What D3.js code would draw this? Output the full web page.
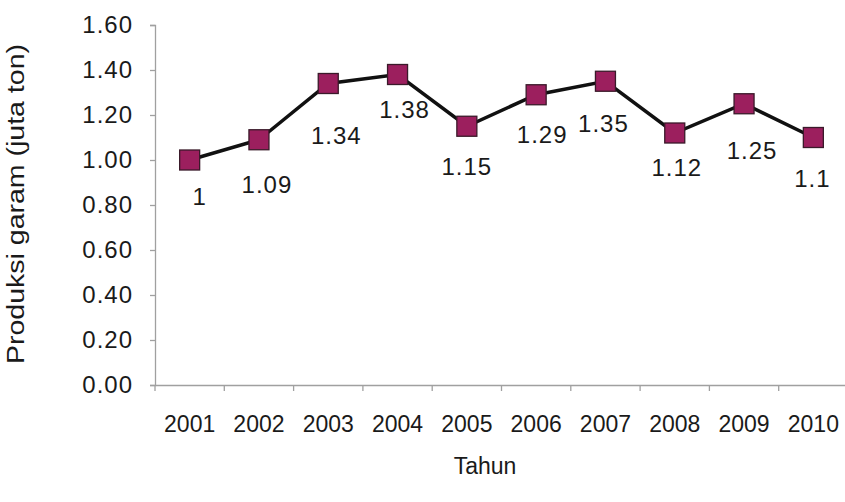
<!DOCTYPE html>
<html><head><meta charset="utf-8">
<script src="https://cdn.jsdelivr.net/npm/d3@7/dist/d3.min.js"></script>
<style>body{margin:0;background:#fff}svg{display:block}</style>
</head><body>
<svg id="c" width="845" height="502"></svg>
<script>
const years = ["2001","2002","2003","2004","2005","2006","2007","2008","2009","2010"];
const production = [1.00,1.09,1.34,1.38,1.15,1.29,1.35,1.12,1.25,1.10];
const pointLabels = ["1","1.09","1.34","1.38","1.15","1.29","1.35","1.12","1.25","1.1"];
const labelOffsets = [37,45,52,35,40,40,42,35,47,41];
const labelShiftX = [10,8,8,7,0,6,-2,2,8,-1];
const yTicks = [0,0.2,0.4,0.6,0.8,1.0,1.2,1.4,1.6];

const svg = d3.select("#c");
const font = "Liberation Sans, Arial, sans-serif";
const x = d3.scaleBand().domain(years).range([155, 848]);
const y = d3.scaleLinear().domain([0, 1.6]).range([385, 25]);

// Y axis
const ya = svg.append("g").attr("transform","translate(155,0)")
  .call(d3.axisLeft(y).tickValues(yTicks).tickFormat(d3.format(".2f")).tickSizeOuter(0).tickSize(5).tickPadding(17));
ya.select(".domain").attr("stroke","#a0a0a0").attr("stroke-width",1.3);
ya.selectAll(".tick line").attr("stroke","#a0a0a0").attr("stroke-width",1.3);
ya.selectAll(".tick text").attr("font-family",font).attr("font-size",24).attr("letter-spacing",1).attr("fill","#1a1a1a");

// X axis
const xa = svg.append("g").attr("transform","translate(0,385)")
  .call(d3.axisBottom(x).tickSize(0).tickPadding(31).tickSizeOuter(0));
xa.select(".domain").attr("stroke","#a0a0a0").attr("stroke-width",1.3);
xa.selectAll(".tick text").attr("font-family",font).attr("font-size",23).attr("fill","#1a1a1a");
// boundary ticks
const bounds = years.map(d => x(d)).concat([x.range()[1]]);
xa.selectAll(".btick").data(bounds).enter().append("line")
  .attr("x1",d=>d).attr("x2",d=>d).attr("y1",0).attr("y2",6)
  .attr("stroke","#a0a0a0").attr("stroke-width",1.3);

// line
const cx = d => x(d) + x.bandwidth()/2;
const data = years.map((yr,i)=>({yr, v:production[i], lab:pointLabels[i], off:labelOffsets[i], sx:labelShiftX[i]}));
svg.append("path").datum(data)
  .attr("d", d3.line().x(d=>cx(d.yr)).y(d=>y(d.v)))
  .attr("fill","none").attr("stroke","#111").attr("stroke-width",3.5);

const ms = 20;
svg.selectAll(".mk").data(data).enter().append("rect")
  .attr("x",d=>cx(d.yr)-ms/2).attr("y",d=>y(d.v)-ms/2)
  .attr("width",ms).attr("height",ms)
  .attr("fill","#9c1f5e").attr("stroke","#3a1a2a").attr("stroke-width",1.3);

svg.selectAll(".lb").data(data).enter().append("text")
  .attr("x",d=>cx(d.yr)+d.sx).attr("y",d=>y(d.v)+d.off)
  .attr("dy","0.35em").attr("text-anchor","middle")
  .attr("font-family",font).attr("font-size",24).attr("letter-spacing",1).attr("fill","#1a1a1a")
  .text(d=>d.lab);

// titles
svg.append("text").attr("transform","translate(16,204) rotate(-90)")
  .attr("text-anchor","middle").attr("dy","0.35em")
  .attr("font-family",font).attr("font-size",23).attr("fill","#1a1a1a")
  .attr("textLength",320).attr("lengthAdjust","spacingAndGlyphs")
  .text("Produksi garam (juta ton)");
svg.append("text").attr("x",485).attr("y",466).attr("text-anchor","middle").attr("dy","0.35em")
  .attr("font-family",font).attr("font-size",23).attr("fill","#1a1a1a")
  .text("Tahun");
</script>
</body></html>
